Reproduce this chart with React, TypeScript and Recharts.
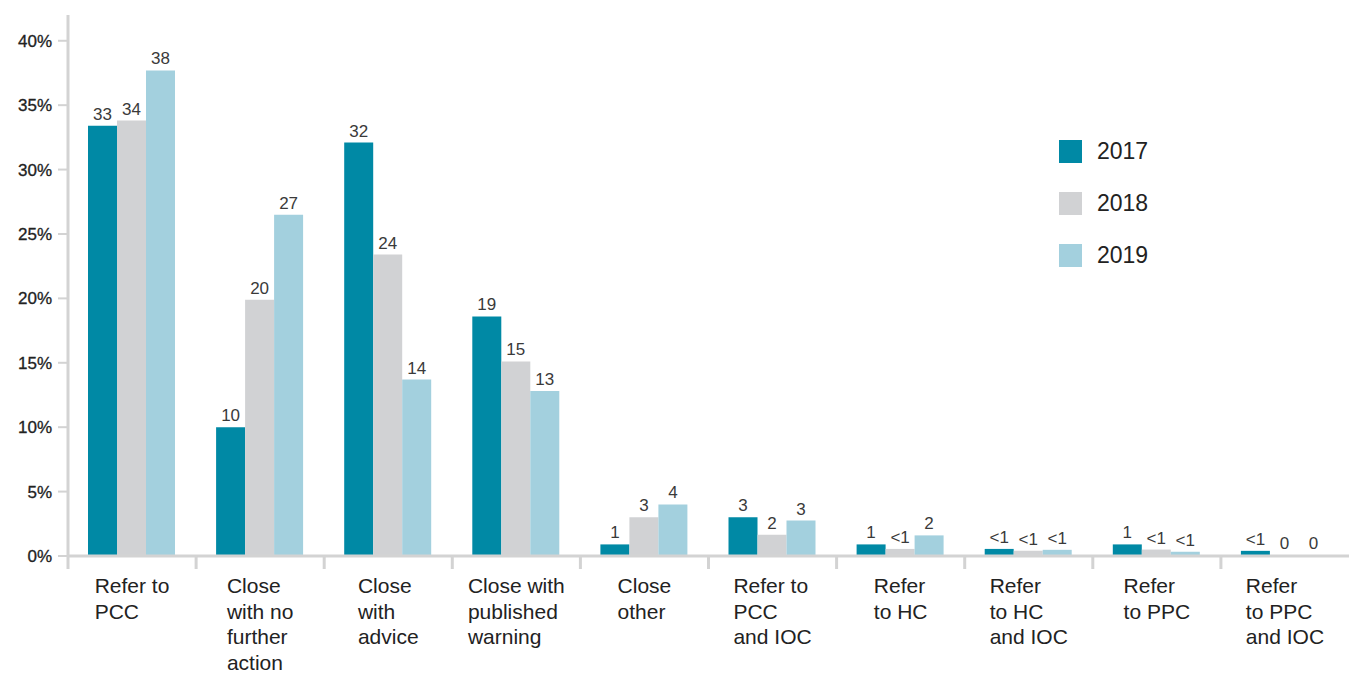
import { BarChart, Bar, XAxis, YAxis, Legend, LabelList } from "recharts";

const categories = [
  "Refer to\nPCC",
  "Close\nwith no\nfurther\naction",
  "Close\nwith\nadvice",
  "Close with\npublished\nwarning",
  "Close\nother",
  "Refer to\nPCC\nand IOC",
  "Refer\nto HC",
  "Refer\nto HC\nand IOC",
  "Refer\nto PPC",
  "Refer\nto PPC\nand IOC",
];

const values2017 = [33.4, 10.0, 32.1, 18.6, 0.9, 3.0, 0.9, 0.55, 0.9, 0.4];
const values2018 = [33.8, 19.9, 23.4, 15.1, 3.0, 1.65, 0.55, 0.4, 0.5, 0];
const values2019 = [37.7, 26.5, 13.7, 12.8, 4.0, 2.75, 1.6, 0.48, 0.33, 0];

const labels2017 = ["33", "10", "32", "19", "1", "3", "1", "<1", "1", "<1"];
const labels2018 = ["34", "20", "24", "15", "3", "2", "<1", "<1", "<1", "0"];
const labels2019 = ["38", "27", "14", "13", "4", "3", "2", "<1", "<1", "0"];

const yTicks = [0, 5, 10, 15, 20, 25, 30, 35, 40];

const series = [
  { key: "y2017", label: "l2017", name: "2017", color: "#0089a5" },
  { key: "y2018", label: "l2018", name: "2018", color: "#d1d2d4" },
  { key: "y2019", label: "l2019", name: "2019", color: "#a3d0de" },
];

const data = categories.map((c, i) => ({
  name: c,
  y2017: values2017[i],
  y2018: values2018[i],
  y2019: values2019[i],
  l2017: labels2017[i],
  l2018: labels2018[i],
  l2019: labels2019[i],
}));

const FONT = "'Liberation Sans', Arial, Helvetica, sans-serif";
const AXIS = "#d3d3d3";
const W = 1349;
const H = 675;
const Y_AXIS_W = 68;
const X_AXIS_H = H - 556;
const BAND = (W - Y_AXIS_W) / categories.length;

let ctx: CanvasRenderingContext2D | null = null;
const measure = (s: string) => {
  if (!ctx) ctx = document.createElement("canvas").getContext("2d");
  if (!ctx) return s.length * 10;
  ctx.font = "21px 'Liberation Sans'";
  return ctx.measureText(s).width;
};

const XTick = ({ x, y, payload }: any) => {
  const lines = String(payload.value).split("\n");
  const w = Math.max(...lines.map(measure));
  const left = x - w / 2;
  const bx = x - BAND / 2;
  return (
    <g>
      <line x1={bx} x2={bx} y1={y} y2={y + 13} stroke={AXIS} strokeWidth={3} />
      <text x={left} y={y + 37} fontSize={21} fill="#222" fontFamily={FONT}>
        {lines.map((l, i) => (
          <tspan key={i} x={left} dy={i === 0 ? 0 : 25.6}>
            {l}
          </tspan>
        ))}
      </text>
    </g>
  );
};

const renderLegend = () => (
  <div style={{ fontFamily: FONT, position: "absolute", left: 0, top: 0, width: 200 }}>
    {series.map((s) => (
      <div
        key={s.key}
        style={{ display: "flex", alignItems: "center", height: 23, marginBottom: 29 }}
      >
        <div style={{ width: 23, height: 23, background: s.color }} />
        <span style={{ marginLeft: 15, fontSize: 23, color: "#222" }}>{s.name}</span>
      </div>
    ))}
  </div>
);

export default function App() {
  return (
    <div style={{ position: "absolute", left: 0, top: 0, background: "#fff" }}>
      <BarChart
        width={W}
        height={H}
        data={data}
        margin={{ top: 15, right: 0, left: 0, bottom: 0 }}
        barCategoryGap={20}
        barGap={0}
      >
        <XAxis
          dataKey="name"
          interval={0}
          tickLine={false}
          tickSize={0}
          tickMargin={0}
          axisLine={{ stroke: AXIS, strokeWidth: 3 }}
          tick={<XTick />}
          height={X_AXIS_H}
        />
        <YAxis
          width={Y_AXIS_W}
          domain={[0, 42]}
          ticks={yTicks}
          interval={0}
          tickFormatter={(v) => `${v}%`}
          tickSize={10}
          tickMargin={6}
          axisLine={{ stroke: AXIS, strokeWidth: 3 }}
          tickLine={{ stroke: AXIS, strokeWidth: 2 }}
          tick={{ fontSize: 17, fill: "#222", fontFamily: FONT, stroke: "#222", strokeWidth: 0.3 }}
        />
        <Legend
          content={renderLegend}
          verticalAlign="top"
          align="left"
          wrapperStyle={{ left: 1059, top: 140, width: 0, height: 0, overflow: "visible" }}
        />
        {series.map((s) => (
          <Bar
            key={s.key}
            dataKey={s.key}
            name={s.name}
            fill={s.color}
            minPointSize={1}
            isAnimationActive={false}
          >
            <LabelList
              dataKey={s.label}
              position="top"
              offset={6}
              fontSize={17}
              fill="#3a3a3a"
              fontFamily={FONT}
            />
          </Bar>
        ))}
      </BarChart>
    </div>
  );
}
